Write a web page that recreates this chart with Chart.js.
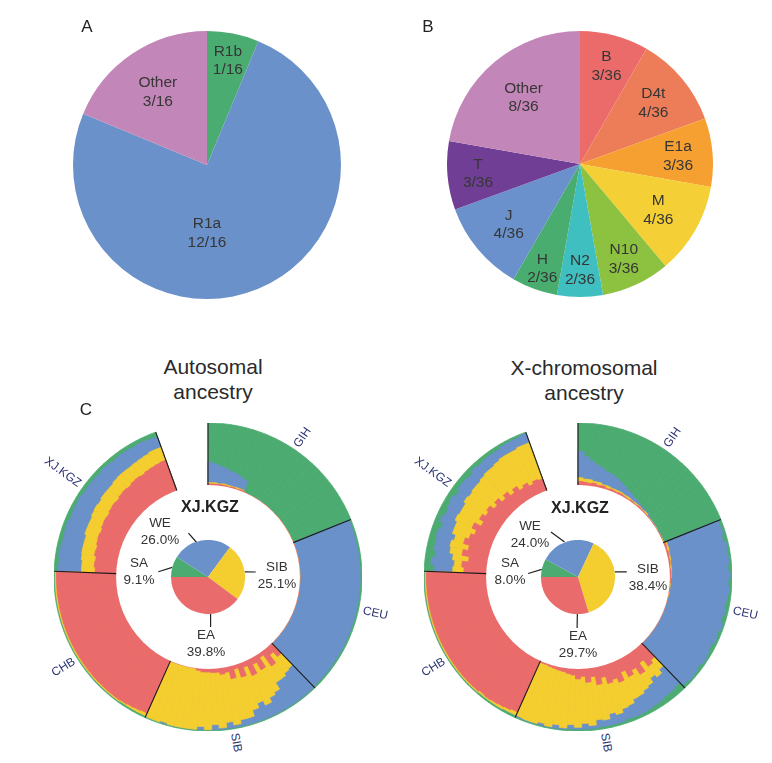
<!DOCTYPE html>
<html>
<head>
<meta charset="utf-8">
<script src="https://cdn.jsdelivr.net/npm/chart.js@4.4.0/dist/chart.umd.min.js"></script>
<style>
  body { margin: 0; background: #fff; font-family: "Liberation Sans", Arial, sans-serif; color: #333; }
  #page { position: relative; width: 772px; height: 763px; overflow: hidden; }
  canvas { position: absolute; }
  .t { position: absolute; white-space: nowrap; }
</style>
</head>
<body>
<div id="page">
  <canvas id="pieA" width="268" height="268" style="left:73px;top:31px"></canvas>
  <canvas id="pieB" width="266" height="266" style="left:447px;top:31px"></canvas>
  <canvas id="ringAuto" width="308" height="308" style="left:54px;top:423px"></canvas>
  <canvas id="ringX" width="308" height="308" style="left:424px;top:423px"></canvas>
  <canvas id="innerAuto" width="74" height="74" style="left:171px;top:540px"></canvas>
  <canvas id="innerX" width="74" height="74" style="left:541px;top:540px"></canvas>
</div>
<script>
// ---- panel A: Y haplogroups ----
const hgA = ['R1b', 'R1a', 'Other'];
const countA = [1, 12, 3];
const colorA = ['#4bac71', '#6a91c9', '#c386b8'];

// ---- panel B: mtDNA haplogroups ----
const hgB = ['B', 'D4t', 'E1a', 'M', 'N10', 'N2', 'H', 'J', 'T', 'Other'];
const countB = [3, 4, 3, 4, 3, 2, 2, 4, 3, 8];
const colorB = ['#eb6b6b', '#ed7d58', '#f5a031', '#f4cf35', '#8dc240', '#40bfc0', '#48ad6f', '#6a91cb', '#703f95', '#c386b8'];

// ---- panel C: ancestry components ----
const comps = ['SA', 'WE', 'SIB', 'EA'];
const autoPct = [9.1, 26.0, 25.1, 39.8];
const xPct = [8.0, 24.0, 38.4, 29.7];
const anc = { EA: '#ea6b6b', SIB: '#f4cd2f', WE: '#6a91c9', SA: '#4bab70' };

const pops = ['GIH', 'CEU', 'SIB', 'CHB', 'XJ.KGZ'];
const perPop = 24;   // bars (individual groups) per population
const gapBars = 7;   // empty slots at the top of the ring

// per-bar fractions, populations in the order above; SA fills the rest of each bar
const autoEA = [
  .02,.02,.02,.02,.01,.02,.01,.02,0,0,0,0,0,0,0,0,0,0,0,0,0,0,0,0,
  0,0,0,0,0,0,0,0,0,0,0,0,0,0,0,0,0,0,0,0,0,0,0,0,
  .22,.12,.28,.06,.24,.10,.26,.08,.22,.06,.20,.08,.10,.06,.06,.05,.05,.03,0,0,0,0,0,0,
  .92,.93,.94,.95,.96,.96,.96,.96,.96,.96,.96,.96,.96,.96,.96,.96,.96,.96,.96,.96,.96,.96,.96,.96,
  .34,.36,.35,.38,.37,.39,.40,.39,.41,.42,.41,.43,.44,.43,.45,.46,.45,.47,.48,.47,.49,.50,.51,.52
];
const autoSIB = [
  .02,.02,.01,.02,.02,.01,.02,.01,0,0,0,0,0,0,0,0,0,0,0,0,0,0,0,0,
  0,0,0,0,0,0,0,0,0,0,0,0,0,0,0,0,0,0,0,0,0,0,0,0,
  .26,.38,.26,.48,.42,.60,.52,.62,.56,.82,.68,.86,.78,.90,.84,.93,.88,.95,.98,.98,.98,.96,.98,.98,
  .05,.04,.03,.02,.02,.02,.02,.02,.02,.02,.02,.02,.02,.02,.02,.02,.02,.02,.02,.02,.02,.02,.02,.02,
  .22,.20,.23,.21,.22,.20,.22,.23,.21,.22,.24,.21,.22,.23,.21,.22,.24,.22,.21,.23,.22,.22,.23,.22
];
const autoWE = [
  .33,.30,.28,.25,.23,.21,.19,.16,0,0,0,0,0,0,0,0,0,0,0,0,0,0,0,0,
  .97,.97,.97,.97,.97,.97,.97,.97,.97,.97,.97,.97,.97,.97,.97,.97,.97,.97,.97,.97,.97,.97,.97,.97,
  .50,.48,.44,.44,.32,.28,.20,.28,.20,.10,.10,.04,.10,.02,.08,0,.05,0,0,0,0,.02,0,0,
  0,0,0,0,0,0,0,0,0,0,0,0,0,0,0,0,0,0,0,0,0,0,0,0,
  .38,.37,.37,.35,.34,.35,.33,.31,.32,.30,.30,.29,.28,.28,.27,.27,.25,.24,.25,.24,.22,.22,.19,.18
];

const xEA = [
  .06,.05,.04,.05,.03,.04,.02,.03,.02,.03,.02,.01,.02,.01,.02,.01,.01,.01,0,.01,0,0,.01,0,
  .03,.02,.03,.02,.02,.01,.02,.01,.01,0,.01,0,0,0,0,0,0,0,0,0,0,0,0,0,
  .30,.35,.22,.38,.25,.32,.20,.34,.26,.30,.18,.28,.14,.22,.12,.16,.10,.08,.06,.05,.04,.03,.02,.02,
  .90,.92,.93,.94,.95,.94,.96,.96,.96,.96,.96,.96,.96,.96,.96,.96,.96,.96,.96,.96,.96,.96,.96,.96,
  .36,.40,.30,.42,.34,.44,.38,.32,.40,.28,.36,.30,.34,.26,.32,.24,.30,.22,.28,.20,.24,.18,.22,.20
];
const xSIB = [
  .06,.05,.06,.03,.05,.02,.04,.02,.03,.02,.02,.03,.01,.02,.01,.01,.02,0,.01,0,.01,0,0,.01,
  .02,.03,.01,.02,.01,.02,.01,.01,0,.01,0,.01,0,0,0,0,0,0,0,0,0,0,0,0,
  .20,.22,.30,.22,.38,.35,.48,.40,.50,.52,.60,.58,.70,.70,.76,.78,.80,.88,.86,.92,.90,.94,.95,.94,
  .06,.04,.04,.03,.02,.03,.02,.02,.02,.02,.02,.02,.02,.02,.02,.02,.02,.02,.02,.02,.02,.02,.02,.02,
  .18,.12,.26,.20,.30,.16,.28,.34,.30,.40,.32,.42,.36,.46,.40,.50,.46,.54,.50,.60,.56,.62,.60,.62
];
const xWE = [
  .42,.36,.30,.27,.24,.22,.20,.18,.15,.12,.10,.08,.06,.05,.03,.03,.02,.02,.01,.01,.01,.01,0,0,
  .90,.91,.89,.93,.92,.94,.91,.95,.93,.96,.94,.92,.95,.93,.97,.94,.96,.93,.95,.97,.94,.96,.97,.95,
  .38,.33,.38,.32,.30,.27,.27,.21,.18,.14,.18,.10,.12,.05,.09,.03,.07,.02,.06,.01,.04,.01,.01,.02,
  0,0,0,0,0,0,0,0,0,0,0,0,0,0,0,0,0,0,0,0,0,0,0,0,
  .30,.38,.28,.26,.24,.30,.20,.26,.18,.22,.24,.16,.22,.20,.18,.20,.16,.18,.16,.14,.16,.16,.14,.16
];

const page = document.getElementById('page');
const R_MIN = -1.48;  // puts value 0 at the inner edge of the ring

function addText(html, x, y, style) {
  const d = document.createElement('div');
  d.className = 't';
  d.innerHTML = html;
  d.style.left = x + 'px';
  d.style.top = y + 'px';
  Object.assign(d.style, { transform: 'translate(-50%,-50%)', textAlign: 'center' }, style || {});
  page.appendChild(d);
  return d;
}

const noUi = {
  responsive: false, animation: false, events: [],
  plugins: { legend: { display: false }, tooltip: { enabled: false } }
};

// ---- pies A and B ----
function makePie(id, names, counts, colors, fracs, angles) {
  const canvas = document.getElementById(id);
  const chart = new Chart(canvas, {
    type: 'pie',
    data: { labels: names, datasets: [{ data: counts, backgroundColor: colors, borderWidth: 0 }] },
    options: Object.assign({ rotation: 0 }, noUi)
  });
  const total = counts.reduce((a, b) => a + b, 0);
  const left = canvas.offsetLeft, top = canvas.offsetTop;
  chart.getDatasetMeta(0).data.forEach((arc, i) => {
    let a = (arc.startAngle + arc.endAngle) / 2;
    if (angles && angles[i] != null) a = (angles[i] - 90) * Math.PI / 180;
    const r = arc.outerRadius * fracs[i];
    addText(names[i] + '<br>' + counts[i] + '/' + total,
      left + arc.x + r * Math.cos(a), top + arc.y + r * Math.sin(a),
      { fontSize: '15.5px', lineHeight: '18.5px', color: '#363636' });
  });
}
makePie('pieA', hgA, countA, colorA, [0.8, 0.5, 0.66], [null, 180, null]);
makePie('pieB', hgB, countB, colorB, [.77, .72, .74, .68, .78, .79, .83, .70, .77, .66]);

// ---- rings for panel C ----
const ringDecor = {
  id: 'ringDecor',
  afterDatasetsDraw(chart, args, opts) {
    const ctx = chart.ctx, s = chart.scales.r;
    const cx = s.xCenter, cy = s.yCenter;
    const r0 = s.getDistanceFromCenterForValue(0), r1 = s.getDistanceFromCenterForValue(1);
    ctx.save();
    ctx.fillStyle = '#fff';
    ctx.beginPath(); ctx.arc(cx, cy, r0, 0, Math.PI * 2); ctx.fill();
    const arcs = chart.getDatasetMeta(3).data;
    const bounds = pops.map((p, k) => arcs[k * perPop].startAngle);
    bounds.push(arcs[pops.length * perPop - 1].endAngle);
    ctx.strokeStyle = '#1c1c1c'; ctx.lineWidth = 1.1;
    bounds.forEach(a => {
      ctx.beginPath();
      ctx.moveTo(cx + r0 * Math.cos(a), cy + r0 * Math.sin(a));
      ctx.lineTo(cx + r1 * Math.cos(a), cy + r1 * Math.sin(a));
      ctx.stroke();
    });
    // leader lines of the small pie
    ctx.strokeStyle = '#222'; ctx.lineWidth = 1.2;
    (opts.leaders || []).forEach(([t1, l1, t2, l2]) => {
      const a1 = (t1 - 90) * Math.PI / 180, a2 = (t2 - 90) * Math.PI / 180;
      ctx.beginPath();
      ctx.moveTo(cx + l1 * Math.cos(a1), cy + l1 * Math.sin(a1));
      ctx.lineTo(cx + l2 * Math.cos(a2), cy + l2 * Math.sin(a2));
      ctx.stroke();
    });
    ctx.restore();
  }
};

function makeRing(id, ea, sib, we, leaders) {
  const canvas = document.getElementById(id);
  const labels = [], c1 = [], c2 = [], c3 = [], c4 = [];
  ea.forEach((v, i) => {
    labels.push(pops[Math.floor(i / perPop)]);
    c1.push(v);
    c2.push(v + sib[i]);
    c3.push(v + sib[i] + we[i]);
    c4.push(1);
  });
  for (let g = 0; g < gapBars; g++) {
    labels.push('');
    c1.push(R_MIN); c2.push(R_MIN); c3.push(R_MIN); c4.push(R_MIN);
  }
  const ds = (data, col, order) => ({ data, backgroundColor: col, borderColor: col, borderWidth: 0.8, order });
  const chart = new Chart(canvas, {
    type: 'polarArea',
    data: {
      labels,
      datasets: [ds(c1, anc.EA, 1), ds(c2, anc.SIB, 2), ds(c3, anc.WE, 3), ds(c4, anc.SA, 4)]
    },
    options: Object.assign({}, noUi, {
      layout: { padding: 0 },
      plugins: { legend: { display: false }, tooltip: { enabled: false }, ringDecor: { leaders } },
      scales: { r: { display: false, min: R_MIN, max: 1, startAngle: 0 } }
    }),
    plugins: [ringDecor]
  });
  // population names, reading along the radius
  const s = chart.scales.r, arcs = chart.getDatasetMeta(3).data;
  const rLab = s.getDistanceFromCenterForValue(1) + 4;
  pops.forEach((p, k) => {
    const a = (arcs[k * perPop].startAngle + arcs[k * perPop + perPop - 1].endAngle) / 2;
    const x = canvas.offsetLeft + s.xCenter + rLab * Math.cos(a);
    const y = canvas.offsetTop + s.yCenter + rLab * Math.sin(a);
    const deg = a * 180 / Math.PI;
    const leftSide = Math.cos(a) < 0;
    const tr = leftSide ? 'rotate(' + (deg + 180) + 'deg) translate(-100%,-50%)'
                        : 'rotate(' + deg + 'deg) translate(0,-50%)';
    addText(p, x, y, { transform: tr, transformOrigin: '0 0', fontSize: '12px', color: '#2e3574' });
  });
  return chart;
}

makeRing('ringAuto', autoEA, autoSIB, autoWE,
  [[285, 37, 276, 50], [342, 36, 336, 48], [82, 37, 84, 48], [176, 37, 177, 50]]);
makeRing('ringX', xEA, xSIB, xWE,
  [[282, 37, 274, 50], [339, 37.5, 329, 52.5], [82, 37, 84, 49], [181, 37, 181, 51]]);

function makeInner(id, pct) {
  new Chart(document.getElementById(id), {
    type: 'pie',
    data: { labels: comps, datasets: [{ data: pct, backgroundColor: comps.map(c => anc[c]), borderWidth: 0 }] },
    options: Object.assign({ rotation: -90 }, noUi)
  });
}
makeInner('innerAuto', autoPct);
makeInner('innerX', xPct);

// ---- text of panel C ----
const innerStyle = { fontSize: '13.5px', lineHeight: '16.5px', color: '#333' };
const posAuto = [[139, 571], [160, 531], [277, 575], [206, 643]];
const posX = [[510, 571], [530, 534], [648, 577], [578, 644]];
comps.forEach((c, i) => {
  addText(c + '<br>' + autoPct[i].toFixed(1) + '%', posAuto[i][0], posAuto[i][1], innerStyle);
  addText(c + '<br>' + xPct[i].toFixed(1) + '%', posX[i][0], posX[i][1], innerStyle);
});
addText('XJ.KGZ', 210, 507, { fontSize: '16px', fontWeight: 'bold', color: '#222' });
addText('XJ.KGZ', 580, 508, { fontSize: '16px', fontWeight: 'bold', color: '#222' });

const titleStyle = { fontSize: '21px', lineHeight: '25px', color: '#2a2a2a' };
addText('Autosomal<br>ancestry', 213, 379, titleStyle);
addText('X-chromosomal<br>ancestry', 584, 380, titleStyle);

const letterStyle = { fontSize: '17px', color: '#222' };
addText('A', 87, 27, letterStyle);
addText('B', 428, 27, letterStyle);
addText('C', 86, 410, letterStyle);
</script>
</body>
</html>
